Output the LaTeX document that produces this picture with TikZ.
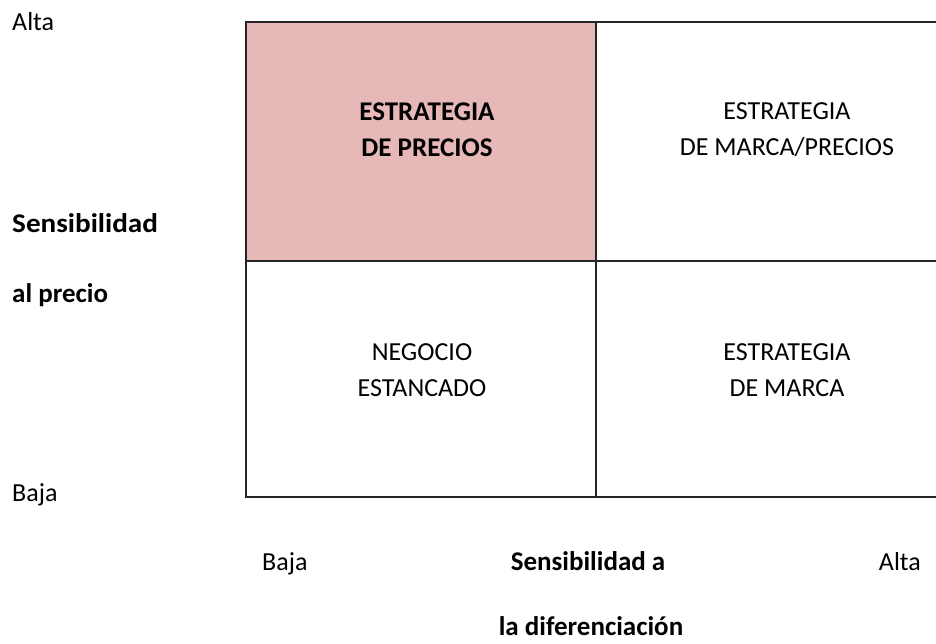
\documentclass[tikz,border=0pt]{standalone}
\usepackage{fontspec}
\setmainfont{Carlito}
\definecolor{cellpink}{HTML}{E6B8B7}
\begin{document}
\begin{tikzpicture}[x=1pt,y=-1pt,
  lbl/.style={inner sep=0pt,font=\fontsize{26}{36}\selectfont},
  blbl/.style={lbl,font=\fontsize{27}{36}\selectfont\bfseries},
  celltxt/.style={inner sep=0pt,align=center,font=\fontsize{26}{36}\selectfont},
  gridline/.style={line width=1.3pt,draw=black!85}]
\useasboundingbox (0,0) rectangle (936,643);
\fill[cellpink] (246,22) rectangle (596,261);
\coordinate (tl) at (246,22);
\coordinate (tm) at (596,22);
\coordinate (tr) at (936,22);
\coordinate (ml) at (246,261);
\coordinate (mr) at (936,261);
\coordinate (bl) at (246,497);
\coordinate (bm) at (596,497);
\coordinate (br) at (936,497);
\draw[gridline] (tr) -- (tl) -- (bl) -- (br);
\draw[gridline] (tm) -- (bm);
\draw[gridline] (ml) -- (mr);
\node[celltxt,font=\fontsize{27}{36}\selectfont\bfseries] (c1) at (427,130) {ESTRATEGIA\\DE PRECIOS};
\node[celltxt] (c2) at (787,130) {ESTRATEGIA\\DE MARCA/PRECIOS};
\node[celltxt] (c3) at (422,370) {NEGOCIO\\ESTANCADO};
\node[celltxt] (c4) at (787,370) {ESTRATEGIA\\DE MARCA};
\node[lbl,anchor=base west] (ya) at (12,30) {Alta};
\node[blbl,anchor=base west,xscale=1.08] (ys1) at (12,232) {Sensibilidad};
\node[blbl,anchor=base west] (ys2) at (12,302) {al precio};
\node[lbl,anchor=base west] (yb) at (12,501) {Baja};
\node[lbl,anchor=base west] (xb) at (262,570) {Baja};
\node[blbl,anchor=base] (xs1) at (588,570) {Sensibilidad a};
\node[lbl,anchor=base east] (xa) at (921,570) {Alta};
\node[blbl,anchor=base] (xs2) at (591,635) {la diferenciación};
\end{tikzpicture}
\end{document}
